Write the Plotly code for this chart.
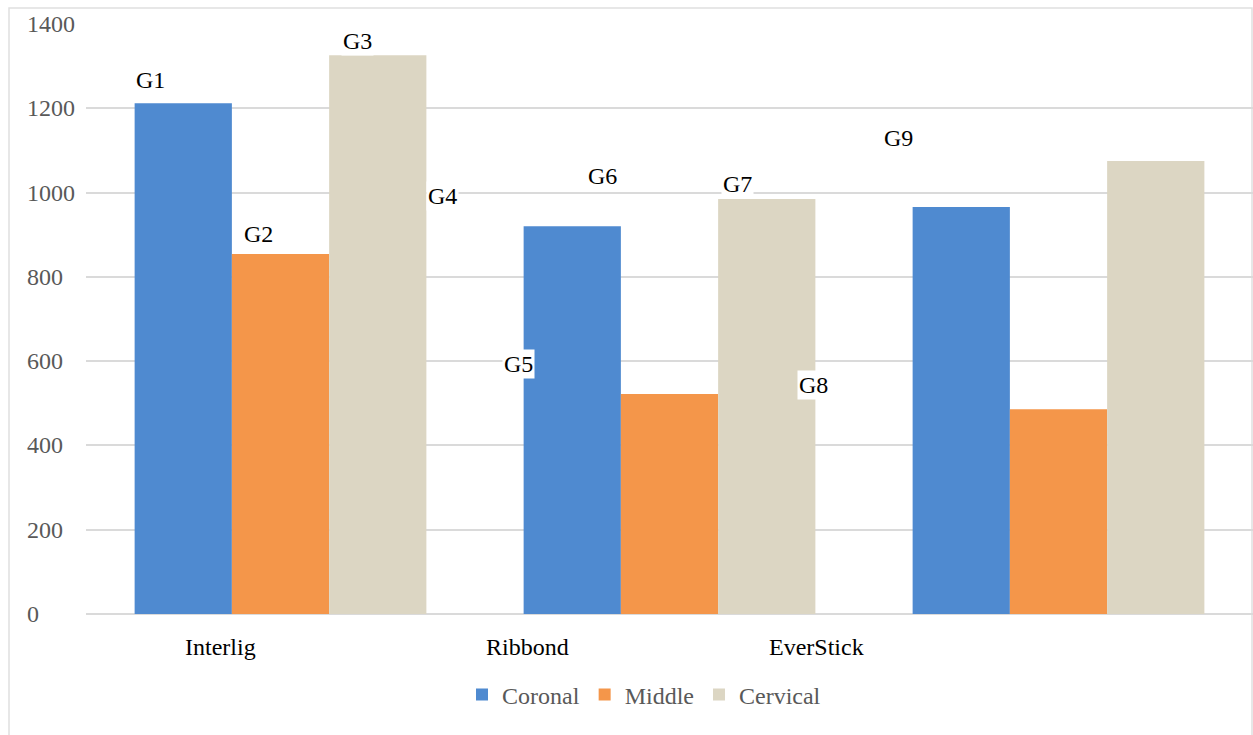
import plotly.graph_objects as go

categories = ["Interlig", "Ribbond", "EverStick"]
coronal = [1212, 920, 966]
middle = [854, 522, 486]
cervical = [1326, 985, 1075]
series_names = ["Coronal", "Middle", "Cervical"]
colors = ["#4F8AD0", "#F4964A", "#DCD6C3"]
y_ticks = [0, 200, 400, 600, 800, 1000, 1200, 1400]

group_labels = ["G1", "G2", "G3", "G4", "G5", "G6", "G7", "G8", "G9"]
# label anchor positions in pixels (x, y) of the picture
label_px = [(150, 80), (258, 234), (357, 41), (442, 196), (518, 364),
            (602, 176), (737, 184), (813, 385), (898, 138)]
cat_label_shift = [-60, -142, -242]

SERIF = "Times New Roman"
FS = 24
W, H = 1253, 735
L, R, T, B = 86, 0, 24, 121
pw, ph = W - L - R, H - T - B

fig = go.Figure()
for name, vals, c in zip(series_names, [coronal, middle, cervical], colors):
    fig.add_trace(go.Bar(x=categories, y=vals, name=name, marker_color=c,
                         marker_line_width=0))

annotations = []
for t, (px, py) in zip(group_labels, label_px):
    annotations.append(dict(text=t, xref="paper", yref="paper",
                            x=(px - L) / pw, y=(H - B - py) / ph,
                            xanchor="center", yanchor="middle",
                            showarrow=False, bgcolor="white",
                            font=dict(family=SERIF, size=FS, color="black")))
for cat, sh in zip(categories, cat_label_shift):
    annotations.append(dict(text=cat, xref="x", yref="paper", x=cat, y=(H - B - 647) / ph,
                            xanchor="center", yanchor="middle",
                            xshift=sh, showarrow=False,
                            font=dict(family=SERIF, size=FS, color="black")))
# left-aligned y tick labels
for v in y_ticks:
    annotations.append(dict(text=str(v), xref="paper", yref="y", x=(25 - L) / pw, y=v,
                            xanchor="left", yanchor="middle", showarrow=False,
                            font=dict(family=SERIF, size=FS, color="#595959")))

fig.update_layout(
    width=W, height=H,
    margin=dict(l=L, r=R, t=T, b=B),
    paper_bgcolor="white", plot_bgcolor="white",
    barmode="group", bargap=0.25, bargroupgap=0,
    xaxis=dict(showticklabels=False, showgrid=False, showline=False, zeroline=False,
               range=[-0.5, 2.5]),
    yaxis=dict(range=[0, 1400], tickvals=y_ticks, showticklabels=False,
               showgrid=True, gridcolor="#dadada", gridwidth=2,
               zeroline=True, zerolinecolor="#dadada", zerolinewidth=2, showline=False,
               ticks=""),
    legend=dict(orientation="h", x=(644 - L) / pw, xanchor="center",
                y=(H - B - 695) / ph, yanchor="middle",
                font=dict(family=SERIF, size=FS, color="#595959"),
                itemwidth=30),
    annotations=annotations,
    shapes=[dict(type="rect", xref="paper", yref="paper",
                 x0=(9 - L) / pw, x1=(1252 - L) / pw, y0=(H - B - 760) / ph, y1=(H - B - 8) / ph,
                 line=dict(color="#e0e0e0", width=1.5), fillcolor="rgba(0,0,0,0)", layer="below")],
)
fig.write_html("out.html")
